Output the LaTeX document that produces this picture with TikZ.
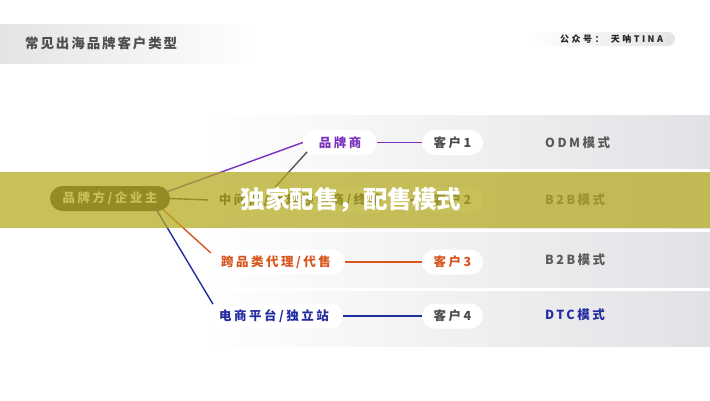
\documentclass[tikz,border=0pt]{standalone}
\usepackage{fontspec}
\newfontfamily\cjk{Noto Sans CJK SC}
\newfontfamily\cjksp[LetterSpace=20]{Noto Sans CJK SC}
\newfontfamily\cjktitle[LetterSpace=14]{Noto Sans CJK SC}
\newfontfamily\cjkwide[LetterSpace=28]{Noto Sans CJK SC}
\usetikzlibrary{shapes.misc,calc}
\definecolor{bandgray}{RGB}{226,226,230}
\definecolor{headgray}{RGB}{228,228,230}
\definecolor{purp}{RGB}{122,48,190}
\definecolor{orng}{RGB}{216,85,30}
\definecolor{blu}{RGB}{35,45,160}
\definecolor{txtgray}{RGB}{77,77,77}
\definecolor{modegray}{RGB}{90,90,90}
\definecolor{linegray}{RGB}{85,85,85}
\definecolor{rootfill}{RGB}{60,60,60}
\definecolor{olv}{RGB}{180,170,30}
\begin{document}
\begin{tikzpicture}[x=1pt,y=-1pt,
  pill/.style={rounded rectangle, fill=white, minimum height=25pt, inner xsep=0pt, inner ysep=0pt,
    font=\cjksp\bfseries\fontsize{12.5}{13}\selectfont},
  modetxt/.style={anchor=west, inner sep=0pt, font=\cjksp\bfseries\fontsize{12.5}{13}\selectfont},
  conn/.style={line width=1.4pt}
]
\useasboundingbox (0,0) rectangle (710,400);
\fill[white] (0,0) rectangle (710,400);
% header
\shade[left color=headgray, right color=white] (0,24) rectangle (260,63);
\node[anchor=west, inner sep=0pt, text=txtgray, font=\cjktitle\bfseries\fontsize{13.5}{14}\selectfont] (title) at (25,43.5) {常见出海品牌客户类型};
% tag
\shade[left color=white, right color=headgray, rounded corners=7pt] (527,32) rectangle (675,46);
\node[anchor=west, inner sep=0pt, text=black!85, font=\cjkwide\bfseries\fontsize{9}{10}\selectfont] (tag) at (560,39) {公众号：\hspace{7pt}天呐TINA};
% row bands
\shade[left color=white, right color=bandgray] (200,115) rectangle (710,168);
\shade[left color=white, right color=bandgray] (200,173) rectangle (710,228);
\shade[left color=white, right color=bandgray] (200,232) rectangle (710,287);
\shade[left color=white, right color=bandgray] (200,291) rectangle (710,346);
% nodes
\node[pill, fill=rootfill, text=white, minimum width=120pt] (root) at (110,198.5) {品牌方/企业主};
\node[pill, text=purp, minimum width=74pt] (pp) at (340,142.5) {品牌商};
\node[pill, text=black!80, minimum width=184pt] (mid) at (300,200) {中间商/代理经销商/终端};
\node[pill, text=orng, minimum width=138pt] (kp) at (276,262) {跨品类代理/代售};
\node[pill, text=blu, minimum width=138pt] (ds) at (274,316) {电商平台/独立站};
\node[pill, text=txtgray, minimum width=61pt] (k1) at (452.5,142.5) {客户1};
\node[pill, text=txtgray, minimum width=61pt] (k2) at (452.5,200) {客户2};
\node[pill, text=orng, minimum width=61pt] (k3) at (452.5,262) {客户3};
\node[pill, text=txtgray, minimum width=61pt] (k4) at (452.5,316) {客户4};
\node[modetxt, text=modegray] (m1) at (545,142.5) {ODM模式};
\node[modetxt, text=modegray] (m2) at (545,200) {B2B模式};
\node[modetxt, text=modegray] (m3) at (545,260) {B2B模式};
\node[modetxt, text=blu] (m4) at (545,315) {DTC模式};
% connectors
\draw[conn, purp] (root.7) -- (pp.west);
\draw[conn, linegray] (pp.196) -- ($(mid.north)+(-25,0)$);
\draw[conn, black!75] (root.east) -- (mid.west);
\draw[conn, orng] (root.-12) -- (kp.172);
\draw[conn, blu] (root.-15) -- (ds.169);
\draw[conn, purp] (pp.east) -- (k1.west);
\draw[conn, black!75] (mid.east) -- (k2.west);
\draw[conn, orng] (kp.east) -- (k3.west);
\draw[conn, blu] (ds.east) -- (k4.west);
% overlay band
\fill[olv, opacity=0.73] (0,172) rectangle (710,227.5);
\node[inner sep=0pt, text=white, font=\cjk\bfseries\fontsize{24.5}{26}\selectfont] (big) at (351,200) {独家配售，配售模式};
\end{tikzpicture}
\end{document}
